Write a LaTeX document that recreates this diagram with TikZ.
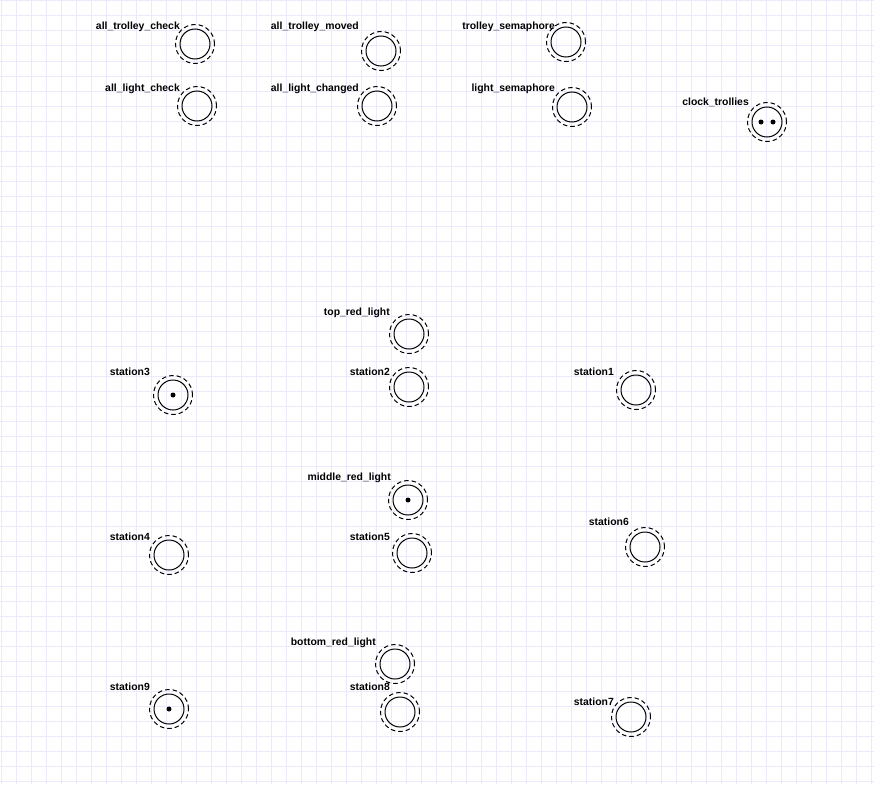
\documentclass[tikz,border=0pt]{standalone}
\usepackage{fontspec}
\setmainfont{Liberation Sans}
\begin{document}
\begin{tikzpicture}[x=1pt,y=-1pt,
  place/.style={circle,draw=black,line width=1pt,minimum size=30pt,inner sep=0pt},
  ring/.style={draw=black,line width=1pt,dash pattern=on 4.5pt off 3pt},
  lbl/.style={font=\bfseries\fontsize{10.4pt}{12pt}\selectfont,inner sep=0pt,anchor=base east},
  token/.style={fill=black}]
\useasboundingbox (0,0) rectangle (874,784);
\fill[white] (0,0) rectangle (874,784);
\foreach \i in {0,...,58} {\draw[line width=1pt,color={rgb,255:red,234;green,234;blue,252}] (1+15*\i,0) -- (1+15*\i,784);}
\foreach \j in {0,...,52} {\draw[line width=1pt,color={rgb,255:red,234;green,234;blue,252}] (0,1+15*\j) -- (874,1+15*\j);}
% places
\node[place] (atc) at (195,44) {};
\node[place] (alc) at (197,106) {};
\node[place] (atm) at (381,51) {};
\node[place] (alch) at (377,106) {};
\node[place] (ts) at (566,42) {};
\node[place] (ls) at (572,107) {};
\node[place] (ct) at (767,122) {};
\node[place] (trl) at (409,334) {};
\node[place] (s3) at (173,395) {};
\node[place] (s2) at (409,387) {};
\node[place] (s1) at (636,390) {};
\node[place] (mrl) at (408,500) {};
\node[place] (s4) at (169,555) {};
\node[place] (s5) at (412,553) {};
\node[place] (s6) at (645,547) {};
\node[place] (brl) at (395,664) {};
\node[place] (s8) at (400,712) {};
\node[place] (s9) at (169,709) {};
\node[place] (s7) at (631,717) {};
\foreach \n in {atc,alc,atm,alch,ts,ls,ct,trl,s3,s2,s1,mrl,s4,s5,s6,brl,s8,s9,s7}
  {\draw[ring] (\n.center) circle[radius=19.5pt];}
% tokens
\fill[token] ([xshift=-6pt]ct.center) circle[radius=2.5pt];
\fill[token] ([xshift=6pt]ct.center) circle[radius=2.5pt];
\fill[token] (s3.center) circle[radius=2.5pt];
\fill[token] (mrl.center) circle[radius=2.5pt];
\fill[token] (s9.center) circle[radius=2.5pt];
% labels
\node[lbl] (latc) at (180,30) {all\_trolley\_check};
\node[lbl] (lalc) at (180,91) {all\_light\_check};
\node[lbl] (latm) at (359,30) {all\_trolley\_moved};
\node[lbl] (lalch) at (359,91) {all\_light\_changed};
\node[lbl] (lts) at (555,30) {trolley\_semaphore};
\node[lbl] (lls) at (555,91) {light\_semaphore};
\node[lbl] (lct) at (749,105.6) {clock\_trollies};
\node[lbl] (ltrl) at (390,315.6) {top\_red\_light};
\node[lbl] (ls3) at (150,375.6) {station3};
\node[lbl] (ls2) at (390,375.6) {station2};
\node[lbl] (ls1) at (614,375.6) {station1};
\node[lbl] (lmrl) at (391,480.6) {middle\_red\_light};
\node[lbl] (ls4) at (150,540.6) {station4};
\node[lbl] (ls5) at (390,540.6) {station5};
\node[lbl] (ls6) at (629,525.6) {station6};
\node[lbl] (lbrl) at (376,645.6) {bottom\_red\_light};
\node[lbl] (ls8) at (390,690.6) {station8};
\node[lbl] (ls9) at (150,690.6) {station9};
\node[lbl] (ls7) at (614,705.6) {station7};
\end{tikzpicture}
\end{document}
